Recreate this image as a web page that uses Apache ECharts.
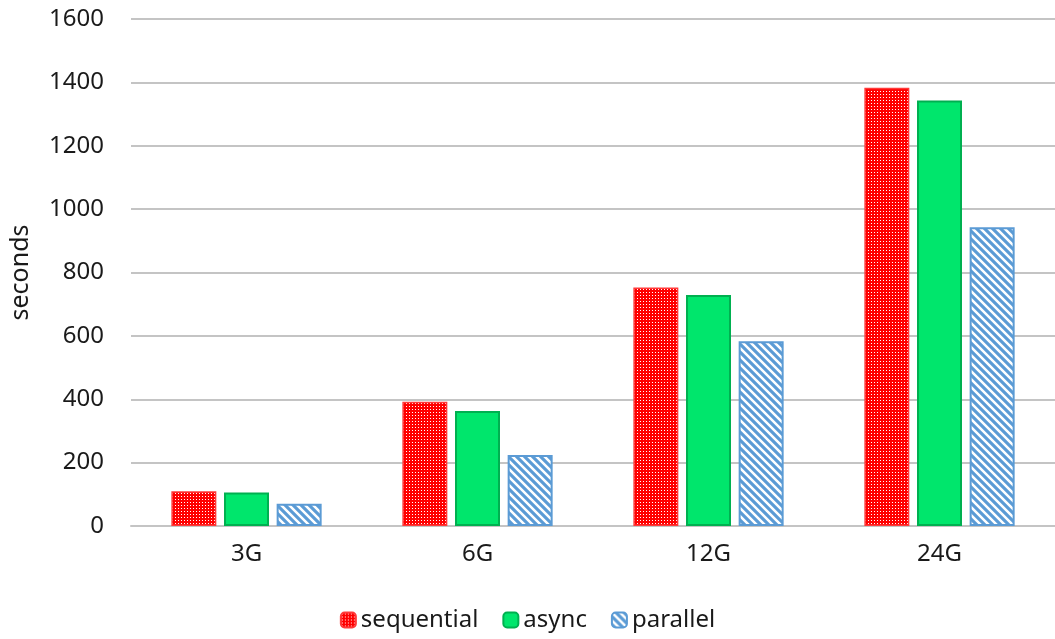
<!DOCTYPE html>
<html>
<head>
<meta charset="utf-8">
<script src="https://cdn.jsdelivr.net/npm/echarts@6/dist/echarts.min.js"></script>
<style>
  html, body { margin: 0; padding: 0; background: #fff; }
  #chart { width: 1055px; height: 639px; }
</style>
</head>
<body>
<div id="chart"></div>
<script>
// Run time per input size for three processing modes
const categories = ['3G', '6G', '12G', '24G'];
const sequential = [110, 392, 753, 1383];
const asyncRun = [106, 363, 729, 1343];
const parallel = [70, 224, 583, 943];
const yTicks = { min: 0, max: 1600, interval: 200 };

// Small repeating tiles used as bar fills
function dotTile() {
  const c = document.createElement('canvas');
  c.width = 3; c.height = 3;
  const g = c.getContext('2d');
  g.fillStyle = '#ff0000';
  g.fillRect(0, 0, 3, 3);
  g.fillStyle = '#ffffff';
  g.fillRect(1, 1, 1, 1);
  return c;
}
function hatchTile() {
  const s = 8;
  const c = document.createElement('canvas');
  c.width = s; c.height = s;
  const g = c.getContext('2d');
  g.fillStyle = '#5b9bd5';
  g.fillRect(0, 0, s, s);
  g.strokeStyle = '#ffffff';
  g.lineWidth = 2.5;
  g.beginPath();
  g.moveTo(-2, -2); g.lineTo(s + 2, s + 2);
  g.moveTo(-s - 2, -2); g.lineTo(2, s + 2);
  g.moveTo(s - 2, -2); g.lineTo(2 * s + 2, s + 2);
  g.stroke();
  return c;
}

const redFill = { image: dotTile(), repeat: 'repeat' };
const blueFill = { image: hatchTile(), repeat: 'repeat' };

const font = 'Noto Sans';
const textColor = '#1a1a1a';
const chart = echarts.init(document.getElementById('chart'), null, { renderer: 'canvas' });
chart.setOption({
  animation: false,
  backgroundColor: '#ffffff',
  grid: { left: 129, right: 0, top: 19, bottom: 113, containLabel: false },
  legend: {
    bottom: 2,
    left: 'center',
    itemWidth: 15,
    itemHeight: 15,
    itemGap: 24,
    textStyle: { fontFamily: font, fontSize: 24, color: textColor, padding: [0, 0, 0, 0] },
    data: ['sequential', 'async', 'parallel']
  },
  xAxis: {
    type: 'category',
    data: categories,
    axisLine: { show: true, lineStyle: { color: '#c4c4c4', width: 2 } },
    axisTick: { show: false },
    axisLabel: { fontFamily: font, fontSize: 24, color: textColor, margin: 16 }
  },
  yAxis: {
    type: 'value',
    min: yTicks.min,
    max: yTicks.max,
    interval: yTicks.interval,
    name: 'seconds',
    nameLocation: 'middle',
    nameGap: 98,
    nameRotate: 90,
    nameTextStyle: { fontFamily: font, fontSize: 25, color: textColor },
    axisLine: { show: false },
    axisTick: { show: false },
    axisLabel: {
      fontFamily: font, fontSize: 24, color: textColor, margin: 27,
      formatter: (v) => String(v)
    },
    splitLine: { lineStyle: { color: '#c4c4c4', width: 2 } }
  },
  series: [
    {
      name: 'sequential', type: 'bar', data: sequential,
      barWidth: 45, barGap: '17%',
      itemStyle: { color: redFill, borderColor: '#ff3a3a', borderWidth: 1.5 }
    },
    {
      name: 'async', type: 'bar', data: asyncRun,
      barWidth: 45, barGap: '17%',
      itemStyle: { color: '#00e66c', borderColor: '#00b050', borderWidth: 2 }
    },
    {
      name: 'parallel', type: 'bar', data: parallel,
      barWidth: 45, barGap: '17%',
      itemStyle: { color: blueFill, borderColor: '#5b9bd5', borderWidth: 2 }
    }
  ]
});
</script>
</body>
</html>
